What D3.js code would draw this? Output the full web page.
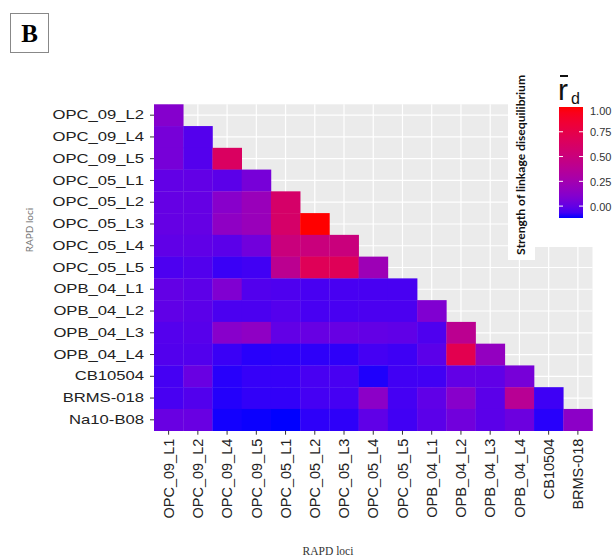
<!DOCTYPE html>
<html>
<head>
<meta charset="utf-8">
<script src="https://cdn.jsdelivr.net/npm/d3@7"></script>
<style>
  body { margin: 0; background: #fff; }
  svg { display: block; }
</style>
</head>
<body>
<script>
// loci on the rows (top to bottom) and columns (left to right)
var rowLoci = ["OPC_09_L2", "OPC_09_L4", "OPC_09_L5", "OPC_05_L1", "OPC_05_L2", "OPC_05_L3",
  "OPC_05_L4", "OPC_05_L5", "OPB_04_L1", "OPB_04_L2", "OPB_04_L3", "OPB_04_L4",
  "CB10504", "BRMS-018", "Na10-B08"];
var colLoci = ["OPC_09_L1", "OPC_09_L2", "OPC_09_L4", "OPC_09_L5", "OPC_05_L1", "OPC_05_L2",
  "OPC_05_L3", "OPC_05_L4", "OPC_05_L5", "OPB_04_L1", "OPB_04_L2", "OPB_04_L3",
  "OPB_04_L4", "CB10504", "BRMS-018"];

// mean linkage disequilibrium, one row per row locus (lower triangle)
var ldRows = [
  [0.11],
  [0.06, -0.036],
  [0.06, -0.036, 0.64],
  [-0.005, -0.005, -0.02, 0.06],
  [0.005, 0.005, 0.12, 0.2, 0.6],
  [0.005, 0.005, 0.15, 0.2, 0.6, 1.0],
  [-0.01, -0.01, -0.02, 0.04, 0.5, 0.5, 0.5],
  [-0.05, -0.04, -0.08, -0.07, 0.4, 0.68, 0.68, 0.22],
  [0.0, -0.015, 0.09, -0.04, -0.048, -0.06, -0.06, -0.06, -0.06],
  [-0.01, -0.02, -0.053, -0.053, -0.036, -0.06, -0.06, -0.053, -0.053, 0.09],
  [-0.036, -0.03, 0.12, 0.15, -0.005, 0.01, 0.01, 0.0, -0.01, -0.048, 0.4],
  [-0.04, -0.04, -0.08, -0.1, -0.098, -0.095, -0.095, -0.064, -0.075, -0.02, 0.72, 0.17],
  [-0.064, 0.014, -0.1, -0.086, -0.086, -0.06, -0.06, -0.107, -0.07, -0.07, -0.005, -0.01, 0.06],
  [-0.06, -0.04, -0.104, -0.09, -0.09, -0.064, -0.064, 0.14, -0.064, -0.01, 0.12, -0.02, 0.38, -0.075],
  [0.014, 0.014, -0.114, -0.117, -0.12, -0.095, -0.095, -0.01, -0.07, -0.02, 0.04, -0.02, 0.025, -0.1, 0.138]
];

// legend
var legendTicks = [0, 0.25, 0.5, 0.75, 1];
var valueRange = [-0.12, 1];

var width = 613, height = 556;
var svg = d3.select("body").append("svg")
  .attr("width", width)
  .attr("height", height);

// flatten the triangle into cells
var cells = [];
ldRows.forEach(function(row, i) {
  row.forEach(function(v, j) {
    cells.push({ row: rowLoci[i], col: colLoci[j], value: v });
  });
});

// scales
var x = d3.scaleBand().domain(colLoci).range([154, 592.5]);
var y = d3.scaleBand().domain(rowLoci).range([104.3, 430.7]);
var color = d3.scaleLinear()
  .domain(valueRange)
  .range(["blue", "red"])
  .interpolate(d3.interpolateLab);

// panel background and grid
svg.append("rect")
  .attr("x", 154).attr("y", 104.3)
  .attr("width", 592.5 - 154).attr("height", 430.7 - 104.3)
  .attr("fill", "#ebebeb");

svg.append("g").selectAll("line")
  .data(colLoci)
  .enter().append("line")
  .attr("x1", function(d) { return x(d) + x.bandwidth() / 2; })
  .attr("x2", function(d) { return x(d) + x.bandwidth() / 2; })
  .attr("y1", 104.3).attr("y2", 430.7)
  .attr("stroke", "#fff").attr("stroke-width", 1.2);

svg.append("g").selectAll("line")
  .data(rowLoci)
  .enter().append("line")
  .attr("y1", function(d) { return y(d) + y.bandwidth() / 2; })
  .attr("y2", function(d) { return y(d) + y.bandwidth() / 2; })
  .attr("x1", 154).attr("x2", 592.5)
  .attr("stroke", "#fff").attr("stroke-width", 1.2);

// tiles
svg.append("g").selectAll("rect")
  .data(cells)
  .enter().append("rect")
  .attr("x", function(d) { return x(d.col); })
  .attr("y", function(d) { return y(d.row); })
  .attr("width", x.bandwidth() + 0.3)
  .attr("height", y.bandwidth() + 0.3)
  .attr("fill", function(d) { return color(d.value); });

// y axis
var gy = svg.append("g")
  .attr("transform", "translate(154,0)")
  .call(d3.axisLeft(y).tickSize(4).tickPadding(6));
gy.select(".domain").remove();
gy.selectAll(".tick line").attr("stroke", "#333");
gy.selectAll(".tick text")
  .attr("x", -10 / 1.28)
  .attr("transform", "scale(1.28,1)")
  .style("font-family", "'Liberation Sans', Arial, sans-serif")
  .style("font-size", "13px")
  .attr("fill", "#222");

// x axis
var gx = svg.append("g")
  .attr("transform", "translate(0,430.7)")
  .call(d3.axisBottom(x).tickSize(4).tickPadding(5));
gx.select(".domain").remove();
gx.selectAll(".tick line").attr("stroke", "#333");
gx.selectAll(".tick text")
  .attr("transform", "rotate(-90)")
  .attr("x", -8)
  .attr("y", 0)
  .attr("dy", "0.36em")
  .style("text-anchor", "end")
  .style("font-family", "'Liberation Sans', Arial, sans-serif")
  .style("font-size", "14.5px")
  .attr("fill", "#222");

// axis titles
svg.append("text")
  .attr("transform", "translate(33,230) rotate(-90)")
  .style("text-anchor", "middle")
  .style("font-family", "Lato, sans-serif")
  .style("font-size", "10px")
  .attr("fill", "#777")
  .text("RAPD loci");

svg.append("text")
  .attr("x", 328).attr("y", 555)
  .style("text-anchor", "middle")
  .style("font-family", "'Liberation Serif', serif")
  .style("font-size", "11.5px")
  .attr("fill", "#333")
  .text("RAPD loci");

// panel letter
svg.append("rect")
  .attr("x", 10.5).attr("y", 13.5)
  .attr("width", 38).attr("height", 39)
  .attr("fill", "none").attr("stroke", "#888");
svg.append("text")
  .attr("x", 29.5).attr("y", 42)
  .style("text-anchor", "middle")
  .style("font-family", "'Liberation Serif', serif")
  .style("font-weight", "bold")
  .style("font-size", "25px")
  .text("B");

// legend boxes
svg.append("rect")
  .attr("x", 508).attr("y", 63).attr("width", 27).attr("height", 197)
  .attr("fill", "#fff");
svg.append("rect")
  .attr("x", 535).attr("y", 65).attr("width", 78).attr("height", 182)
  .attr("fill", "#fff");

svg.append("text")
  .attr("transform", "translate(525,165) rotate(-90)")
  .style("text-anchor", "middle")
  .style("font-family", "Lato, 'Open Sans', sans-serif")
  .style("font-weight", "bold")
  .style("font-size", "11px")
  .attr("textLength", 180)
  .attr("lengthAdjust", "spacingAndGlyphs")
  .attr("fill", "#111")
  .text("Strength of linkage disequilibrium");

// legend title: r with overline, subscript d
svg.append("text")
  .attr("x", 558).attr("y", 100)
  .style("font-family", "'Liberation Sans', Arial, sans-serif")
  .style("font-size", "30px")
  .attr("fill", "#111")
  .text("r");
svg.append("line")
  .attr("x1", 560).attr("x2", 568)
  .attr("y1", 76).attr("y2", 76)
  .attr("stroke", "#111").attr("stroke-width", 2);
svg.append("text")
  .attr("x", 571).attr("y", 104)
  .style("font-family", "'Liberation Sans', Arial, sans-serif")
  .style("font-size", "16px")
  .attr("fill", "#111")
  .text("d");

// colour bar
var barY = d3.scaleLinear().domain(valueRange).range([218, 107]);
var grad = svg.append("defs").append("linearGradient")
  .attr("id", "ldgrad")
  .attr("x1", 0).attr("x2", 0).attr("y1", 1).attr("y2", 0);
d3.range(0, 1.0001, 0.05).forEach(function(t) {
  var v = valueRange[0] + t * (valueRange[1] - valueRange[0]);
  grad.append("stop")
    .attr("offset", t)
    .attr("stop-color", color(v));
});
svg.append("rect")
  .attr("x", 559).attr("y", barY(valueRange[1]))
  .attr("width", 24)
  .attr("height", barY(valueRange[0]) - barY(valueRange[1]))
  .attr("fill", "url(#ldgrad)");

var lt = svg.append("g").selectAll("g")
  .data(legendTicks)
  .enter().append("g")
  .attr("transform", function(d) { return "translate(0," + barY(d) + ")"; });
lt.filter(function(d) { return d < 1; }).append("line")
  .attr("x1", 559).attr("x2", 563)
  .attr("stroke", "#fff");
lt.filter(function(d) { return d < 1; }).append("line")
  .attr("x1", 579).attr("x2", 583)
  .attr("stroke", "#fff");
lt.append("text")
  .attr("x", 590)
  .attr("dy", function(d) { return d === 1 ? "0.75em" : "0.4em"; })
  .style("font-family", "'Liberation Sans', Arial, sans-serif")
  .style("font-size", "11px")
  .attr("fill", "#333")
  .text(function(d) { return d3.format(".2f")(d); });
</script>
</body>
</html>
